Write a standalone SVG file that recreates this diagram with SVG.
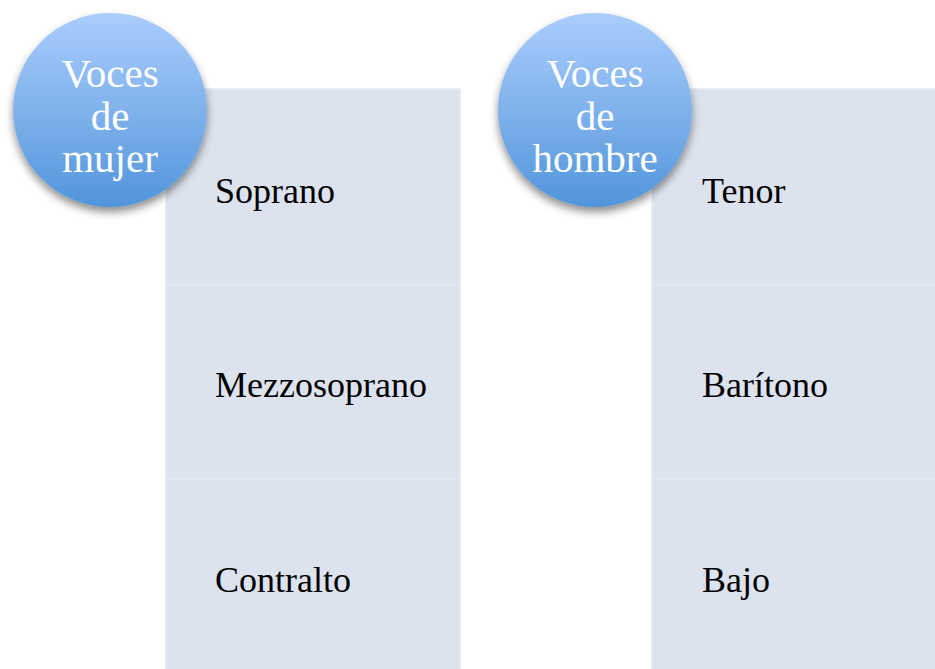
<svg xmlns="http://www.w3.org/2000/svg" width="935" height="669" viewBox="0 0 935 669">
  <style>
    .row { fill: #dce2ee; stroke: #e4e8f2; stroke-width: 1.5; }
    .lbl { font-family: "Liberation Serif", "Times New Roman", serif; font-size: 36px; fill: #000000; }
    .head { font-family: "Liberation Serif", "Times New Roman", serif; font-size: 41px; fill: #ffffff; text-anchor: middle; }
    .circ { fill: url(#blueGrad); filter: url(#shadow); }
  </style>
  <defs>
    <linearGradient id="blueGrad" x1="0" y1="0" x2="0" y2="1">
      <stop offset="0" stop-color="#a9cdfd"/>
      <stop offset="0.5" stop-color="#80b2ec"/>
      <stop offset="1" stop-color="#5095db"/>
    </linearGradient>
    <filter id="shadow" x="-20%" y="-20%" width="140%" height="150%">
      <feGaussianBlur in="SourceAlpha" stdDeviation="4"/>
      <feOffset dx="0" dy="5" result="b"/>
      <feComponentTransfer in="b" result="s"><feFuncA type="linear" slope="0.45"/></feComponentTransfer>
      <feMerge><feMergeNode in="s"/><feMergeNode in="SourceGraphic"/></feMerge>
    </filter>
  </defs>
  <g id="connectors"></g>
  <g id="col-mujer">
    <rect class="row" x="166" y="89" width="294" height="196"/>
    <rect class="row" x="166" y="285" width="294" height="194"/>
    <rect class="row" x="166" y="479" width="294" height="196"/>
  </g>
  <g id="soprano"><text class="lbl" x="215" y="203">Soprano</text></g>
  <g id="mezzosoprano"><text class="lbl" x="215" y="397">Mezzosoprano</text></g>
  <g id="contralto"><text class="lbl" x="215" y="592">Contralto</text></g>
  <g id="col-hombre">
    <rect class="row" x="652" y="89" width="290" height="196"/>
    <rect class="row" x="652" y="285" width="290" height="194"/>
    <rect class="row" x="652" y="479" width="290" height="196"/>
  </g>
  <g id="tenor"><text class="lbl" x="702" y="203">Tenor</text></g>
  <g id="baritono"><text class="lbl" x="702" y="397">Barítono</text></g>
  <g id="bajo"><text class="lbl" x="702" y="592">Bajo</text></g>
  <g id="voces-mujer">
    <circle class="circ" cx="110" cy="110" r="97"/>
    <text class="head" x="110" y="87">Voces</text>
    <text class="head" x="110" y="130">de</text>
    <text class="head" x="110" y="172">mujer</text>
  </g>
  <g id="voces-hombre">
    <circle class="circ" cx="595" cy="110" r="97"/>
    <text class="head" x="595" y="87">Voces</text>
    <text class="head" x="595" y="130">de</text>
    <text class="head" x="595" y="172">hombre</text>
  </g>
</svg>
